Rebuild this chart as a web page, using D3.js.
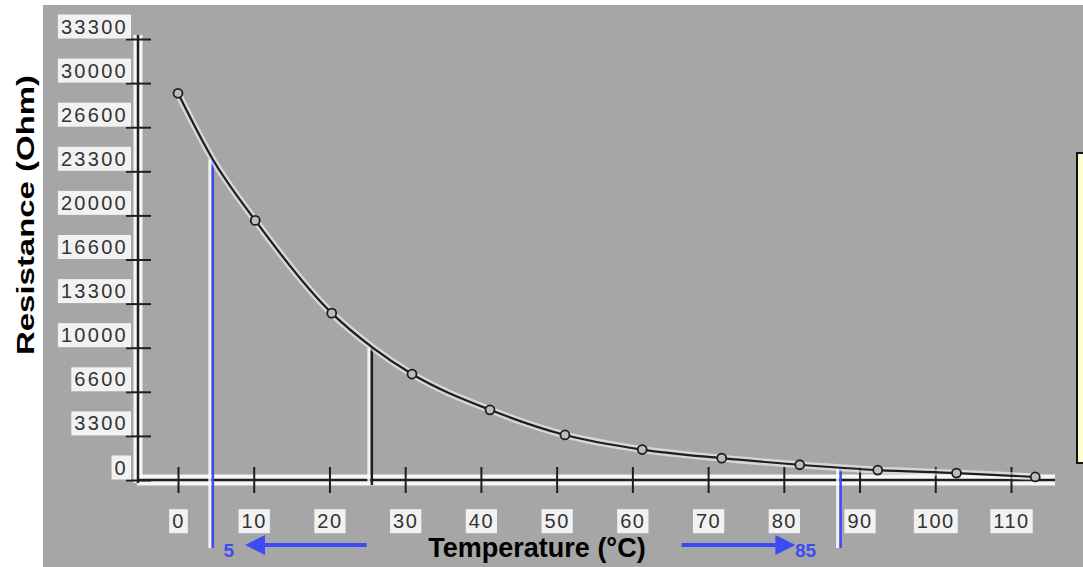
<!DOCTYPE html>
<html>
<head>
<meta charset="utf-8">
<script src="https://cdn.jsdelivr.net/npm/d3@7"></script>
<style>
  html, body { margin: 0; padding: 0; background: #ffffff; }
  svg { display: block; font-family: Arial, "Liberation Sans", sans-serif; }
</style>
</head>
<body>
<svg id="chart" width="1083" height="567"></svg>
<script>
// ---- data ----
const temps       = [0, 4.6, 10.2, 20.3, 25.7, 30.9, 41.2, 51.1, 61.3, 71.8, 82.1, 92.4, 102.8, 113.2];
const resistances = [29200, 24200, 19600, 12600, 10000, 8000, 5300, 3400, 2300, 1650, 1150, 750, 520, 230];
const pointShown  = [true, false, true, true, false, true, true, true, true, true, true, true, true, true];

const xTickValues = [0, 10, 20, 30, 40, 50, 60, 70, 80, 90, 100, 110];
const xTickLabels = ["0", "10", "20", "30", "40", "50", "60", "70", "80", "90", "100", "110"];
const yTickValues = [0, 3330, 6660, 9990, 13320, 16650, 19980, 23310, 26640, 29970, 33300];
const yTickLabels = ["0", "3300", "6600", "10000", "13300", "16600", "20000", "23300", "26600", "30000", "33300"];

// vertical guide lines: temperature, top resistance, colour
const guideTemps  = [4.6, 25.6, 87.5];
const guideTops   = [24200, 10000, 800];
const guideBlue   = [true, false, true];
const guideLabels = ["5", "", "85"];

// arrows (temperatures of start and end)
const arrowFrom = [24.9, 66.5];
const arrowTo   = [9.4, 81.0];

const xTitle = "Temperature (°C)";
const yTitle = "Resistance (Ohm)";

// ---- drawing ----
const svg = d3.select("#chart");
const W = 1083, H = 567;
const blue = "#3d4cf2";
const ink = "#1e1e1e";

svg.append("rect").attr("x", 43).attr("y", 5).attr("width", W - 43).attr("height", H - 5)
  .attr("fill", "#a6a6a6");

const x = d3.scaleLinear().domain([0, 110]).range([178, 1011]);
const y = d3.scaleLinear().domain([0, 33300]).range([480, 39]);

// legend box (cut off at right edge)
svg.append("rect").attr("x", 1077).attr("y", 153).attr("width", 20).attr("height", 310)
  .attr("fill", "#ffffcc").attr("stroke", "#111").attr("stroke-width", 2);

// axes underlays (white halo)
const axisY0 = y(0);
svg.append("line").attr("x1", 137).attr("x2", 1055).attr("y1", axisY0).attr("y2", axisY0)
  .attr("stroke", "#fff").attr("stroke-width", 11).attr("opacity", 0.9);
svg.append("line").attr("x1", 138).attr("x2", 138).attr("y1", 35).attr("y2", axisY0 + 3)
  .attr("stroke", "#fff").attr("stroke-width", 9).attr("opacity", 0.9);

// Y axis
const yAxis = svg.append("g").attr("transform", "translate(138,0)")
  .call(d3.axisLeft(y).tickValues(yTickValues)
    .tickFormat((d, i) => yTickLabels[i]).tickSizeInner(12).tickSizeOuter(0).tickPadding(10));
yAxis.select(".domain").attr("d", `M0,35V${axisY0 + 3}`).attr("stroke", ink).attr("stroke-width", 2.5);
yAxis.selectAll(".tick line").attr("x1", 13).attr("x2", -12).attr("stroke", ink).attr("stroke-width", 2);
yAxis.selectAll(".tick text").attr("font-size", 20).attr("fill", "#333").attr("letter-spacing", 2.3)
  .attr("dy", "-0.3em").attr("x", -10).style("font-family", "Arial, 'Liberation Sans', sans-serif");

// X axis
const xAxis = svg.append("g").attr("transform", `translate(0,${axisY0})`)
  .call(d3.axisBottom(x).tickValues(xTickValues)
    .tickFormat((d, i) => xTickLabels[i]).tickSizeInner(13).tickSizeOuter(0).tickPadding(21));
xAxis.select(".domain").attr("d", "M137,0H1055").attr("stroke", ink).attr("stroke-width", 2.5);
xAxis.selectAll(".tick line").attr("y1", -13).attr("y2", 13).attr("stroke", ink).attr("stroke-width", 2);
xAxis.selectAll(".tick text").attr("font-size", 20).attr("fill", "#333").attr("letter-spacing", 1.5)
  .style("font-family", "Arial, 'Liberation Sans', sans-serif");

// white boxes behind tick labels
[yAxis, xAxis].forEach(g => {
  g.selectAll(".tick").each(function () {
    const t = d3.select(this).select("text");
    const b = t.node().getBBox();
    d3.select(this).insert("rect", "text")
      .attr("x", b.x - 3).attr("y", b.y - 1).attr("width", b.width + 6).attr("height", b.height + 2)
      .attr("fill", "#fff").attr("opacity", 0.85);
  });
});

// data series
const pts = temps.map((t, i) => ({ t, r: resistances[i], show: pointShown[i] }));
const line = d3.line().x(d => x(d.t)).y(d => y(d.r)).curve(d3.curveMonotoneX);

// guide lines
guideTemps.forEach((t, i) => {
  const gx = x(t);
  const bottom = guideBlue[i] ? 548 : axisY0 + 5;
  svg.append("line").attr("x1", gx - 3).attr("x2", gx - 3).attr("y1", y(guideTops[i])).attr("y2", bottom)
    .attr("stroke", "#fff").attr("stroke-width", 3).attr("opacity", 0.85);
  svg.append("line").attr("x1", gx).attr("x2", gx).attr("y1", y(guideTops[i])).attr("y2", bottom)
    .attr("stroke", guideBlue[i] ? blue : ink).attr("stroke-width", 2.5);
});

svg.append("path").datum(pts).attr("d", line).attr("fill", "none")
  .attr("stroke", "#fff").attr("stroke-width", 7).attr("opacity", 0.55);
svg.append("path").datum(pts).attr("d", line).attr("fill", "none")
  .attr("stroke", ink).attr("stroke-width", 2.2);

svg.selectAll("circle.pt").data(pts.filter(d => d.show)).join("circle").attr("class", "pt")
  .attr("cx", d => x(d.t)).attr("cy", d => y(d.r)).attr("r", 4.5)
  .attr("fill", "#bdbdbd").attr("stroke", ink).attr("stroke-width", 1.8);

// blue guide labels
svg.append("text").attr("x", x(guideTemps[0]) + 16).attr("y", 557).attr("text-anchor", "middle")
  .attr("font-size", 19).attr("fill", blue).attr("font-weight", "bold").text(guideLabels[0]);
svg.append("text").attr("x", x(guideTemps[2]) - 35).attr("y", 557).attr("text-anchor", "middle")
  .attr("font-size", 19).attr("fill", blue).attr("font-weight", "bold").text(guideLabels[2]);

// arrows
const defs = svg.append("defs");
defs.append("marker").attr("id", "ah").attr("viewBox", "0 0 10 10").attr("refX", 8).attr("refY", 5)
  .attr("markerWidth", 5).attr("markerHeight", 5).attr("orient", "auto")
  .append("path").attr("d", "M0,0L10,5L0,10z").attr("fill", blue);
arrowFrom.forEach((f, i) => {
  svg.append("line").attr("x1", x(f)).attr("x2", x(arrowTo[i])).attr("y1", 545).attr("y2", 545)
    .attr("stroke", blue).attr("stroke-width", 4).attr("marker-end", "url(#ah)");
});

// titles
svg.append("text").attr("x", 537).attr("y", 557).attr("text-anchor", "middle")
  .attr("font-size", 27).attr("font-weight", "bold").attr("fill", "#000").text(xTitle);
svg.append("text").attr("transform", "translate(34,215) rotate(-90)").attr("text-anchor", "middle")
  .attr("font-size", 24).attr("font-weight", "bold").attr("fill", "#000")
  .attr("textLength", 280).attr("lengthAdjust", "spacingAndGlyphs").text(yTitle);
</script>
</body>
</html>
